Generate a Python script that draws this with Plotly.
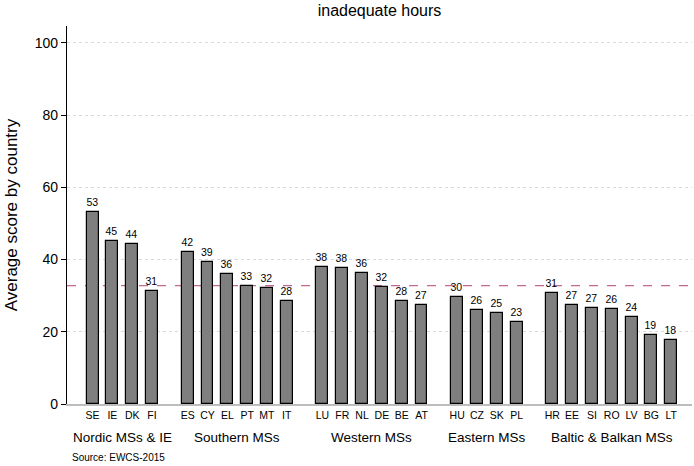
import plotly.graph_objects as go

groups = ["Nordic MSs & IE", "Southern MSs", "Western MSs", "Eastern MSs", "Baltic & Balkan MSs"]
group_countries = [
    ["SE", "IE", "DK", "FI"],
    ["ES", "CY", "EL", "PT", "MT", "IT"],
    ["LU", "FR", "NL", "DE", "BE", "AT"],
    ["HU", "CZ", "SK", "PL"],
    ["HR", "EE", "SI", "RO", "LV", "BG", "LT"],
]
group_values = [
    [53.3, 45.2, 44.4, 31.4],
    [42.0, 39.4, 35.9, 32.7, 32.0, 28.4],
    [38.0, 37.7, 36.3, 32.4, 28.4, 27.3],
    [29.7, 25.9, 25.2, 22.8],
    [30.8, 27.4, 26.7, 26.3, 24.1, 19.1, 17.7],
]
eu_average = 32.8
y_ticks = [0, 20, 40, 60, 80, 100]
source_note = "Source: EWCS-2015"
title_text = "inadequate hours"
y_title = "Average score by country"

GAP = 0.8
xs, labels, vals, group_centers = [], [], [], []
pos = 0.0
for g, (cs, vs) in enumerate(zip(group_countries, group_values)):
    start = pos
    for c, v in zip(cs, vs):
        xs.append(pos)
        labels.append(c)
        vals.append(v)
        pos += 1
    group_centers.append((start + pos - 1) / 2)
    pos += GAP

FONT = "Liberation Sans, Arial, Helvetica"

fig = go.Figure()
fig.add_trace(go.Bar(
    x=xs, y=vals, width=0.6,
    marker=dict(color="#7f7f7f", line=dict(color="black", width=1.2)),
    text=[f"{v:.0f}" for v in vals], textposition="outside", constraintext="none",
    textfont=dict(family=FONT, size=10.5, color="black"),
    cliponaxis=False, showlegend=False, hoverinfo="skip",
))

fig.add_shape(type="line", xref="paper", yref="y", x0=0, x1=1, y0=eu_average, y1=eu_average,
              line=dict(color="#c06a93", width=1.2, dash="dash"), layer="below")

for gx, gname in zip(group_centers, groups):
    fig.add_annotation(x=gx, xref="x", y=-0.064, yref="paper", text=gname, showarrow=False,
                       yanchor="top", font=dict(family=FONT, size=13.5, color="black"))

fig.add_annotation(x=0.005, xref="paper", y=-0.121, yref="paper", text=source_note, showarrow=False,
                   xanchor="left", yanchor="top", font=dict(family=FONT, size=10, color="black"))

fig.update_layout(
    width=694, height=466,
    margin=dict(l=67, r=2, t=26, b=62),
    plot_bgcolor="white", paper_bgcolor="white",
    bargap=0,
    title=dict(text=title_text, x=0.5, xref="paper", xanchor="center", y=0.99, yanchor="top",
               font=dict(family=FONT, size=16, color="black")),
    font=dict(family=FONT, color="black"),
)
fig.update_xaxes(
    range=[-1.29, 30.25], tickmode="array", tickvals=xs, ticktext=labels,
    tickfont=dict(size=10.5), showgrid=False, zeroline=False,
    showline=True, linecolor="#bdbdbd", linewidth=2, ticks="", ticklen=0,
)
fig.update_yaxes(
    range=[0, 104.7], tickmode="array", tickvals=y_ticks,
    tickfont=dict(size=14), showgrid=True, gridcolor="#dadada", griddash="dot", gridwidth=1,
    zeroline=False, showline=True, linecolor="black", linewidth=1.2,
    ticks="outside", ticklen=5, tickcolor="black",
    title=dict(text=y_title, font=dict(size=17), standoff=12),
)

fig.write_html("out.html", config={"displayModeBar": False},
               post_script="document.body.style.margin='0';")
